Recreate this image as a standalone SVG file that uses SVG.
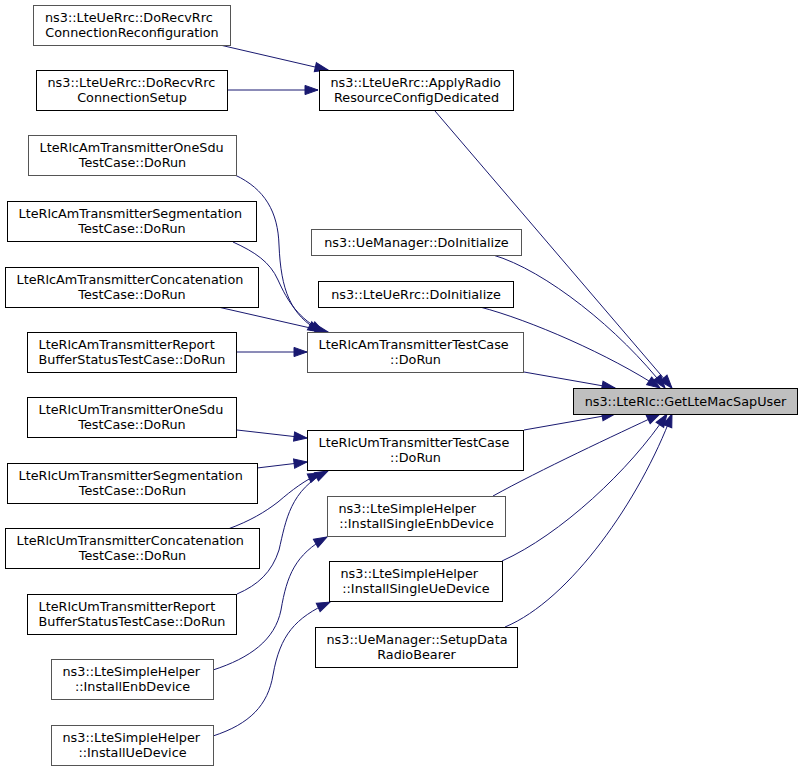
<svg xmlns="http://www.w3.org/2000/svg" width="803" height="769" viewBox="0 0 803 769">
<style>
.node rect{fill:#ffffff;stroke:#000000;stroke-width:1}
.node.g rect{stroke:#555555}
.node.t rect{fill:#bfbfbf}
text{font-family:"DejaVu Sans","Liberation Sans",sans-serif;font-size:12.8px;fill:#000000}
.m{text-anchor:middle}
.edges path{fill:none;stroke:#191970;stroke-width:1;marker-end:url(#arr)}
</style>
<defs>
<marker id="arr" markerUnits="userSpaceOnUse" viewBox="0 0 14 10" markerWidth="14" markerHeight="10" refX="13" refY="5" orient="auto" overflow="visible">
<path d="M0,0.4 L13,5 L0,9.6 Z" fill="#191970" stroke="#191970" stroke-width="1"/>
</marker>
</defs>
<rect width="803" height="769" fill="#ffffff"/>
<g class="edges">
<path d="M220,45 L328,70"/>
<path d="M227,90 L318,90"/>
<path d="M435,111 L672,388"/>
<path d="M493,255 C545,270 620,330 665,388"/>
<path d="M480,307 C530,320 610,355 660,388"/>
<path d="M524,372 L615,388"/>
<path d="M524,430 L615,414"/>
<path d="M493,496 C540,470 615,435 660,414"/>
<path d="M502,561 C560,535 630,470 667,414"/>
<path d="M505,627 C570,600 640,500 672,414"/>
<path d="M235,175 C265,189 278,212 279,245 C281,290 290,315 321,332"/>
<path d="M233,242 C255,252 270,262 278,280 C288,302 298,318 324,332"/>
<path d="M218,307 L328,332"/>
<path d="M236,352 L307,352"/>
<path d="M237,430 L307,438"/>
<path d="M257,468 L307,462"/>
<path d="M228,529 C250,521 265,512 278,502 C292,490 305,480 321,473"/>
<path d="M237,594 C258,585 272,572 279,550 C286,520 290,490 328,471"/>
<path d="M213,670 C250,658 275,640 281,610 C287,575 295,555 327,537"/>
<path d="M213,736 C250,724 268,705 273,675 C280,635 295,618 330,602"/>
</g>
<g id="target" class="node t"><rect x="573.5" y="388.5" width="224" height="26"/><text class="m" x="685.5" y="405.5">ns3::LteRlc::GetLteMacSapUser</text></g>
<g id="applyRadio" class="node"><rect x="319.5" y="70.5" width="194" height="40"/><text x="330.5" y="87">ns3::LteUeRrc::ApplyRadio</text><text class="m" x="416.5" y="102">ResourceConfigDedicated</text></g>
<g id="recvReconf" class="node g"><rect x="33.5" y="5.5" width="197" height="40"/><text x="45" y="22">ns3::LteUeRrc::DoRecvRrc</text><text class="m" x="132" y="37">ConnectionReconfiguration</text></g>
<g id="recvSetup" class="node"><rect x="36.5" y="70.5" width="191" height="40"/><text x="47.5" y="87">ns3::LteUeRrc::DoRecvRrc</text><text class="m" x="132" y="102">ConnectionSetup</text></g>
<g id="ueMgrInit" class="node g"><rect x="311.5" y="229.5" width="210" height="26"/><text class="m" x="416.5" y="246.5">ns3::UeManager::DoInitialize</text></g>
<g id="ueRrcInit" class="node"><rect x="318.5" y="281.5" width="195" height="26"/><text class="m" x="416" y="298.5">ns3::LteUeRrc::DoInitialize</text></g>
<g id="amTest" class="node g"><rect x="307.5" y="332.5" width="216" height="40"/><text x="318.5" y="349">LteRlcAmTransmitterTestCase</text><text class="m" x="415.5" y="364">::DoRun</text></g>
<g id="amOneSdu" class="node g"><rect x="28.5" y="135.5" width="208" height="40"/><text x="39.5" y="152">LteRlcAmTransmitterOneSdu</text><text class="m" x="132.5" y="167">TestCase::DoRun</text></g>
<g id="amSeg" class="node"><rect x="7.5" y="201.5" width="249" height="40"/><text x="18.5" y="218">LteRlcAmTransmitterSegmentation</text><text class="m" x="132" y="233">TestCase::DoRun</text></g>
<g id="amConcat" class="node"><rect x="5.5" y="267.5" width="253" height="40"/><text x="16.5" y="284">LteRlcAmTransmitterConcatenation</text><text class="m" x="132" y="299">TestCase::DoRun</text></g>
<g id="amReport" class="node"><rect x="27.5" y="332.5" width="209" height="40"/><text x="38.5" y="349">LteRlcAmTransmitterReport</text><text class="m" x="132" y="364">BufferStatusTestCase::DoRun</text></g>
<g id="umTest" class="node"><rect x="307.5" y="430.5" width="216" height="40"/><text x="318.5" y="447">LteRlcUmTransmitterTestCase</text><text class="m" x="415.5" y="462">::DoRun</text></g>
<g id="umOneSdu" class="node"><rect x="27.5" y="397.5" width="209" height="40"/><text x="38.5" y="414">LteRlcUmTransmitterOneSdu</text><text class="m" x="132" y="429">TestCase::DoRun</text></g>
<g id="umSeg" class="node"><rect x="7.5" y="463.5" width="250" height="40"/><text x="18.5" y="480">LteRlcUmTransmitterSegmentation</text><text class="m" x="132.5" y="495">TestCase::DoRun</text></g>
<g id="umConcat" class="node"><rect x="5.5" y="528.5" width="254" height="40"/><text x="16.5" y="545">LteRlcUmTransmitterConcatenation</text><text class="m" x="132.5" y="560">TestCase::DoRun</text></g>
<g id="umReport" class="node"><rect x="27.5" y="594.5" width="209" height="40"/><text x="38.5" y="611">LteRlcUmTransmitterReport</text><text class="m" x="132" y="626">BufferStatusTestCase::DoRun</text></g>
<g id="singleEnb" class="node g"><rect x="327.5" y="496.5" width="178" height="40"/><text x="338.5" y="513">ns3::LteSimpleHelper</text><text class="m" x="416.5" y="528">::InstallSingleEnbDevice</text></g>
<g id="singleUe" class="node"><rect x="329.5" y="561.5" width="173" height="40"/><text x="340.5" y="578">ns3::LteSimpleHelper</text><text class="m" x="416" y="593">::InstallSingleUeDevice</text></g>
<g id="setupDrb" class="node"><rect x="315.5" y="627.5" width="202" height="40"/><text x="326.5" y="644">ns3::UeManager::SetupData</text><text class="m" x="416.5" y="659">RadioBearer</text></g>
<g id="installEnb" class="node g"><rect x="51.5" y="659.5" width="162" height="40"/><text x="62.5" y="676">ns3::LteSimpleHelper</text><text class="m" x="132.5" y="691">::InstallEnbDevice</text></g>
<g id="installUe" class="node g"><rect x="51.5" y="725.5" width="162" height="40"/><text x="62.5" y="742">ns3::LteSimpleHelper</text><text class="m" x="132.5" y="757">::InstallUeDevice</text></g>
</svg>
